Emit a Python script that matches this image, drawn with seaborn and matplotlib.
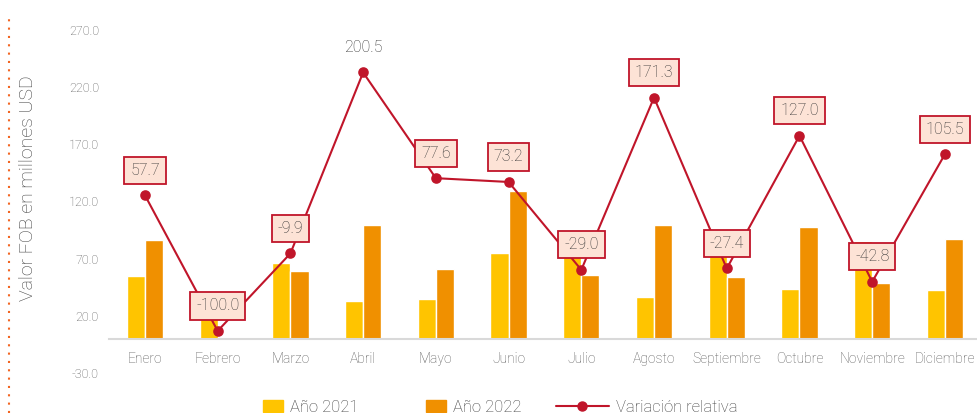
import numpy as np
import pandas as pd
import seaborn as sns
import matplotlib.pyplot as plt
from matplotlib.patches import Patch, Rectangle
from matplotlib.lines import Line2D
from matplotlib.legend_handler import HandlerPatch

# datos
meses = ["Enero", "Febrero", "Marzo", "Abril", "Mayo", "Junio", "Julio",
         "Agosto", "Septiembre", "Octubre", "Noviembre", "Diciembre"]
fob_2021 = [54.5, 20.0, 66.1, 33.1, 34.5, 74.6, 78.4, 36.6, 74.6, 43.1, 85.7, 42.3]
fob_2022 = [85.9, 0.0, 59.5, 99.5, 61.2, 129.2, 55.7, 99.3, 54.2, 97.8, 49.0, 86.9]
variacion = [57.7, -100.0, -9.9, 200.5, 77.6, 73.2, -29.0, 171.3, -27.4, 127.0, -42.8, 105.5]
yticks = [-30, 20, 70, 120, 170, 220, 270]

amarillo = "#FFC400"
naranja = "#F09000"
rojo = "#C0152A"
gris_txt = "#595959"

sns.set_style("white")
plt.rcParams["font.family"] = ["Roboto", "DejaVu Sans"]
plt.rcParams["font.weight"] = "light"

df = pd.DataFrame({
    "mes": meses * 2,
    "valor": fob_2021 + fob_2022,
    "anio": ["Año 2021"] * 12 + ["Año 2022"] * 12,
})

fig = plt.figure(figsize=(9.77, 4.13), dpi=100)
ax = fig.add_axes([108.6 / 977, 40 / 413, 872.7 / 977, 343.2 / 413])

sns.barplot(data=df, x="mes", y="valor", hue="anio", palette=[amarillo, naranja],
            width=0.5, saturation=1, legend=False, ax=ax)
ax.set_xlim(-0.5, 11.5)
ax.set_ylim(-30, 270)
ax.set_yticks(yticks)
ax.set_yticklabels([f"{v:.1f}" for v in yticks])
ax.set_xlabel("")
ax.set_ylabel("")
for s in ["top", "right", "left"]:
    ax.spines[s].set_visible(False)
ax.spines["bottom"].set_position(("data", 0))
ax.spines["bottom"].set_color("#D9D9D9")
ax.spines["bottom"].set_linewidth(1.5)
ax.tick_params(axis="y", length=0, pad=7, labelsize=9, labelcolor=gris_txt)
ax.tick_params(axis="x", length=0, pad=9.5, labelsize=10, labelcolor=gris_txt)

# variación relativa en eje secundario
ax2 = ax.twinx()
sns.pointplot(x=meses, y=variacion, color=rojo, markers="o", markersize=6.5,
              linewidth=1.5, ax=ax2)
ax2.set_ylim((245 - 373) / 0.8596, (245 - 30) / 0.8596)
ax2.set_xlim(-0.5, 11.5)
ax2.set_yticks([])
ax2.set_ylabel("")
for s in ax2.spines.values():
    s.set_visible(False)

for i, v in enumerate(variacion):
    caja = dict(boxstyle="square,pad=0.38", fc="#FDE3D6", ec=rojo, lw=1.3)
    if v == max(variacion):
        caja = None
    ax2.annotate(f"{v:.1f}", (i, v), xytext=(0, 18), textcoords="offset points",
                 ha="center", va="center", fontsize=11.5, color="#333333", bbox=caja)

fig.text(28 / 977, 1 - 188 / 413, "Valor FOB en millones USD", rotation=90,
         ha="center", va="center", fontsize=14, color="#404040")

# línea punteada decorativa
fig.add_artist(Line2D([9 / 977, 9 / 977], [0, 1 - 15 / 413], transform=fig.transFigure,
                      color="#F26522", lw=1.5, linestyle=(0, (1, 3)),
                      dash_capstyle="butt"))


# leyenda: cuadros a la derecha del espacio del símbolo
def cuadro(legend, orig_handle, xdescent, ydescent, width, height, fontsize):
    w = 14.4
    return Rectangle((width - w - xdescent, -ydescent), w, height)


handles = [Patch(color=amarillo), Patch(color=naranja),
           Line2D([], [], color=rojo, lw=1.5, marker="o", markersize=6.5)]
fig.legend(handles, ["Año 2021", "Año 2022", "Variación relativa"],
           loc="center", bbox_to_anchor=(0.495, 6 / 413), ncol=3, frameon=False,
           fontsize=12, labelcolor="#404040", handlelength=3.2,
           handletextpad=0.42, columnspacing=2.05,
           handler_map={Patch: HandlerPatch(patch_func=cuadro)})

fig.savefig("out.png", dpi=100)
